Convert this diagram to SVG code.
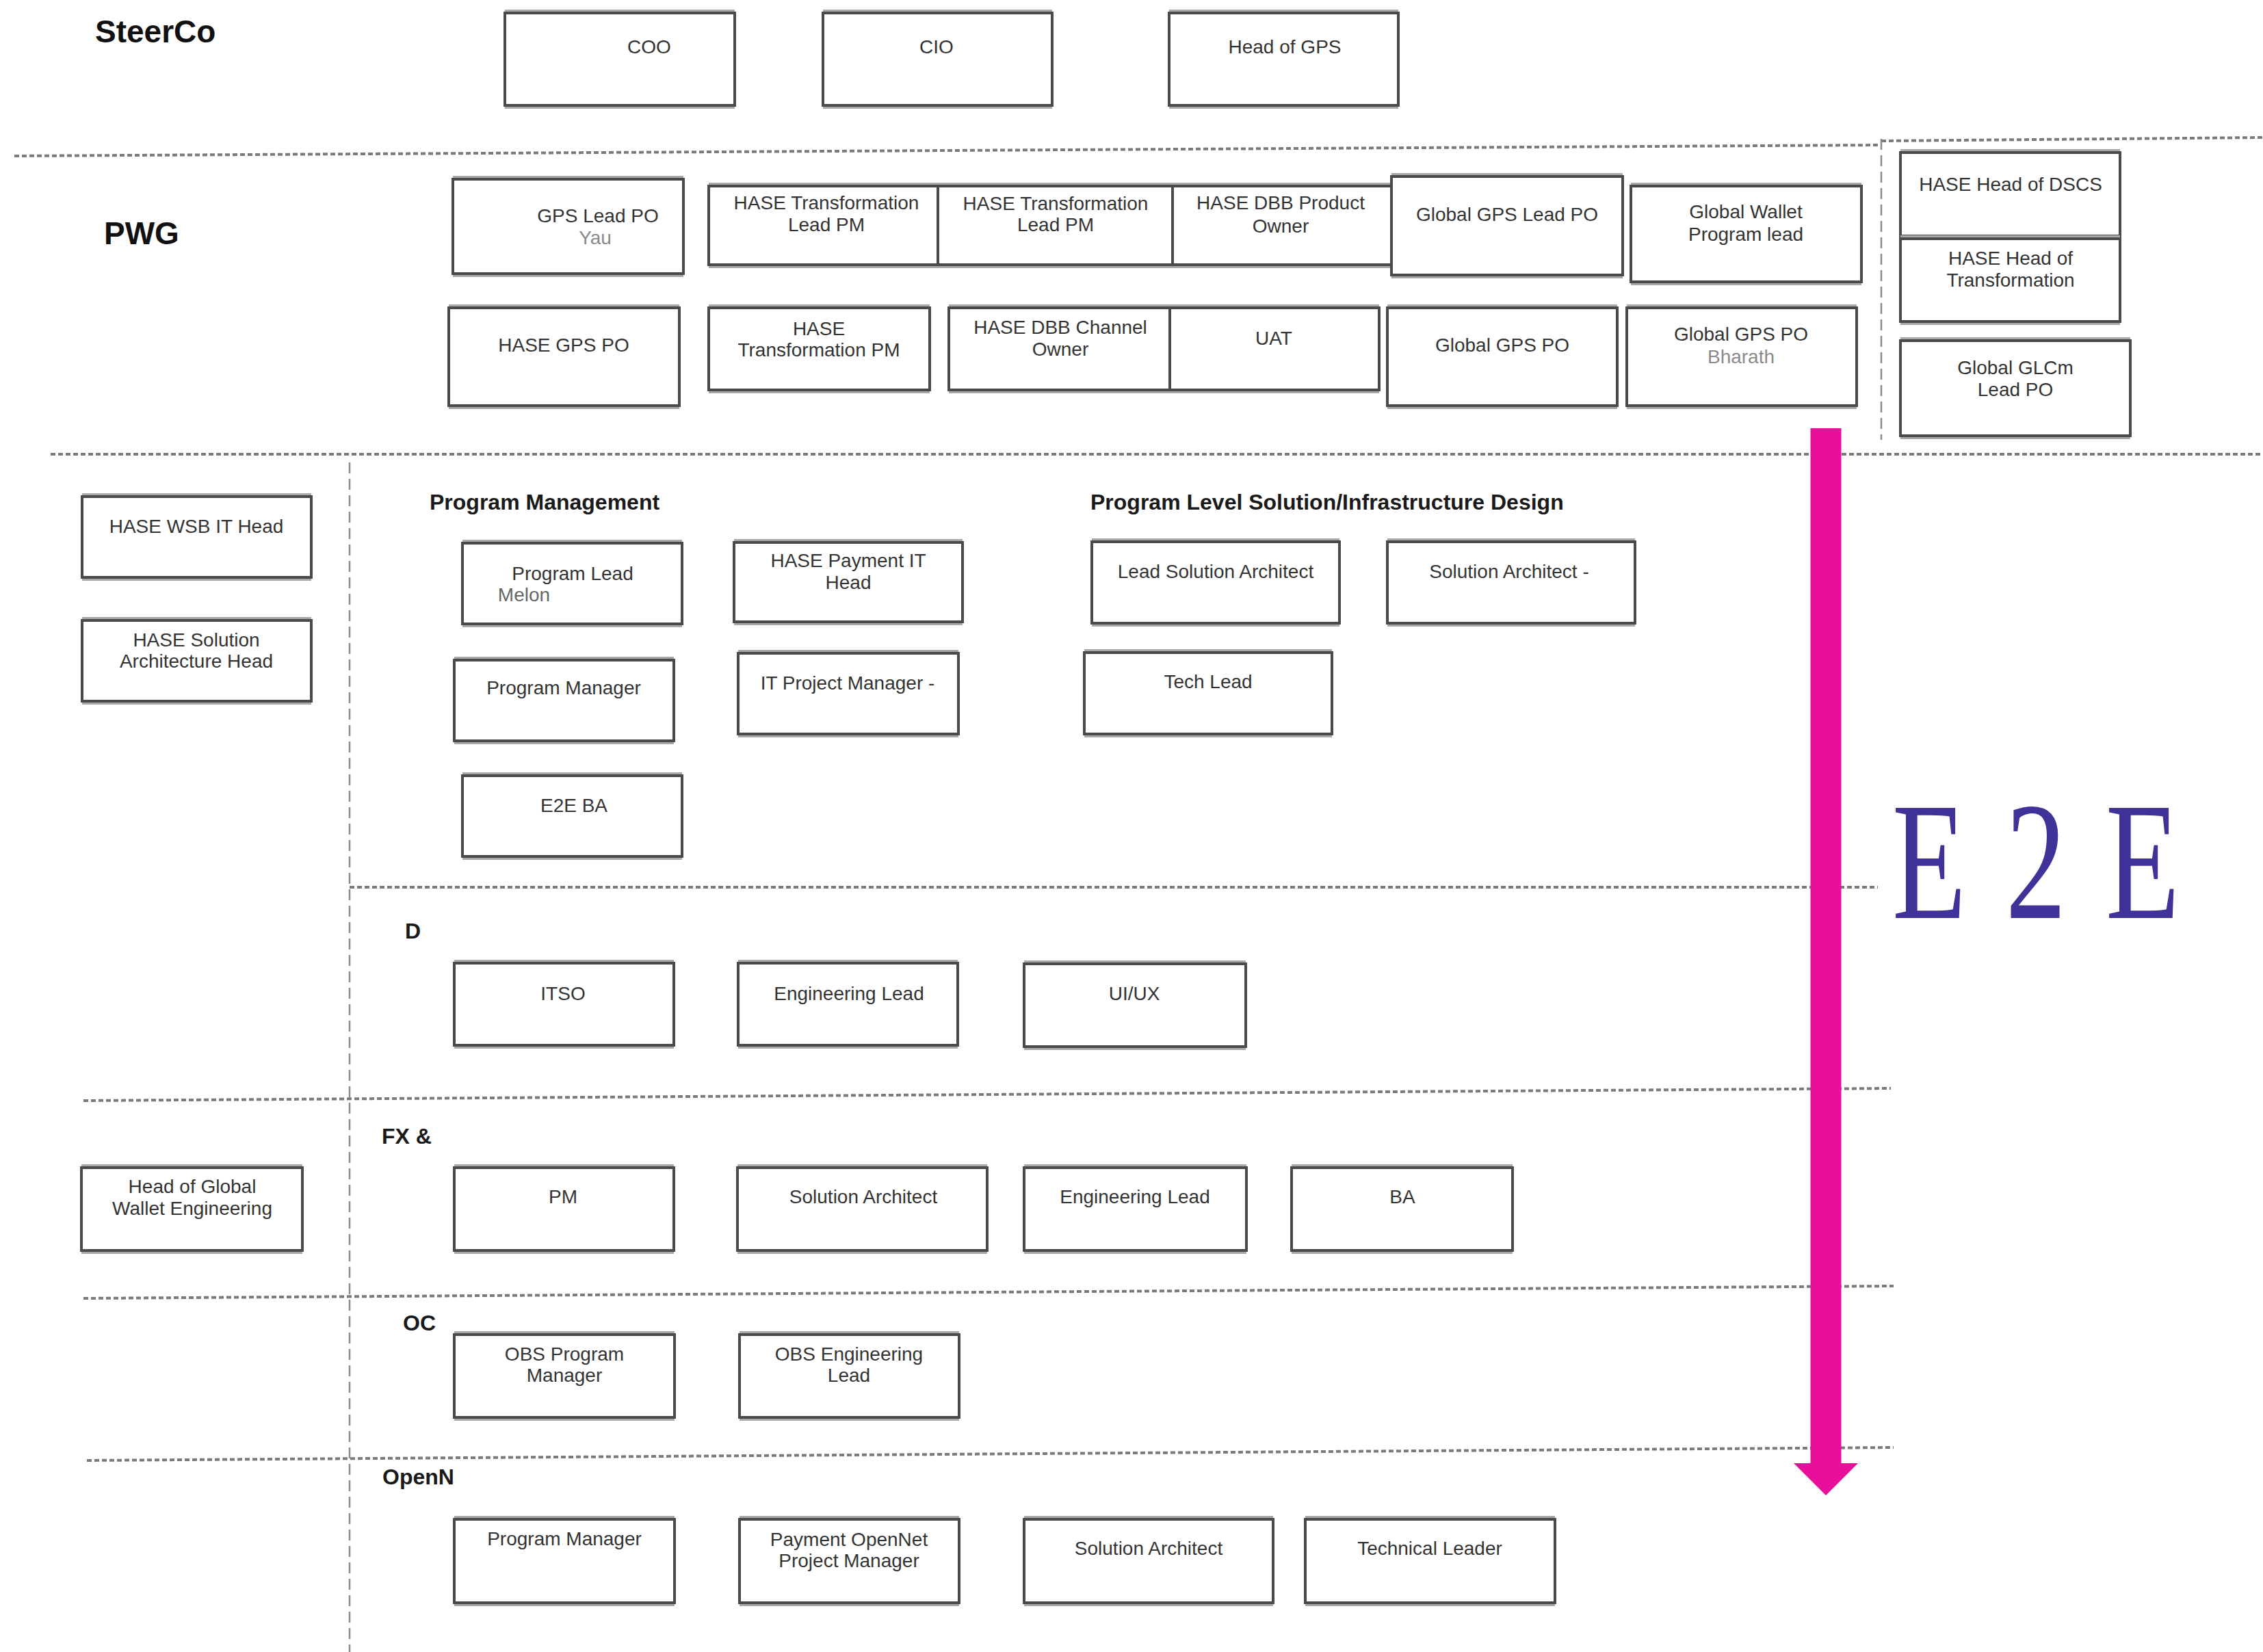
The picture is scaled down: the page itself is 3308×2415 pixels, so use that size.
<svg xmlns="http://www.w3.org/2000/svg" width="3308" height="2415" viewBox="0 0 3308 2415">
<style>
.bg{fill:#ffffff}
.box{fill:#ffffff;stroke:#4a4a4a;stroke-width:4}
.edge{fill:none;stroke:#a8a8a8;stroke-width:10}
.t{font-family:"Liberation Sans",Arial,sans-serif;font-size:28px;fill:#333333;text-anchor:middle}
.n{font-family:"Liberation Sans",Arial,sans-serif;font-size:28px;fill:#8a8a8a;text-anchor:middle}
.big{font-family:"Liberation Sans",Arial,sans-serif;font-size:46px;font-weight:bold;fill:#111111}
.sec{font-family:"Liberation Sans",Arial,sans-serif;font-size:32px;font-weight:bold;fill:#1a1a1a}
.hd{fill:none;stroke:#7a7a7a;stroke-width:4;stroke-dasharray:7 4}
.vd{fill:none;stroke:#8a8a8a;stroke-width:2.5;stroke-dasharray:16 8}
.e2e{font-family:"Liberation Serif","Times New Roman",serif;font-size:246px;fill:#3f3298;letter-spacing:80px}
</style>
<rect class="bg" x="0" y="0" width="3308" height="2415"/>

<g id="dividers">
<path class="hd" d="M21 228 L2750 212"/>
<path class="hd" d="M2750 206 L3308 201"/>
<path class="vd" d="M2750 203 L2750 643"/>
<path class="hd" d="M74 664 L3308 664"/>
<path class="vd" d="M511 676 L511 2415"/>
<path class="hd" d="M511 1297 L2745 1297"/>
<path class="hd" d="M122 1609 L2764 1591"/>
<path class="hd" d="M122 1898 L2768 1880"/>
<path class="hd" d="M127 2135 L2768 2116"/>
</g>

<g id="labels">
<text class="big" x="139" y="62">SteerCo</text>
<text class="big" x="152" y="357">PWG</text>
<text class="sec" x="628" y="745">Program Management</text>
<text class="sec" x="1594" y="745">Program Level Solution/Infrastructure Design</text>
<text class="sec" x="592" y="1372">D</text>
<text class="sec" x="558" y="1672">FX &amp;</text>
<text class="sec" x="589" y="1945">OC</text>
<text class="sec" x="559" y="2170">OpenN</text>
<text class="e2e" transform="translate(2766,1342) scale(0.72,1)">E2E</text>
</g>

<g id="node-coo"><path class="edge" d="M738 19H1074M738 154H1074"/><rect class="box" x="738" y="19" width="336" height="135"/><text class="t" x="949" y="78">COO</text></g>
<g id="node-cio"><path class="edge" d="M1203 19H1538M1203 154H1538"/><rect class="box" x="1203" y="19" width="335" height="135"/><text class="t" x="1369" y="78">CIO</text></g>
<g id="node-head-gps"><path class="edge" d="M1709 19H2044M1709 154H2044"/><rect class="box" x="1709" y="19" width="335" height="135"/><text class="t" x="1878" y="78">Head of GPS</text></g>

<g id="node-gps-lead-po"><path class="edge" d="M662 262H999M662 400H999"/><rect class="box" x="662" y="262" width="337" height="138"/><text class="t" x="874" y="325">GPS Lead PO</text><text class="n" x="870" y="357">Yau</text></g>
<g id="node-hase-tlpm-1"><path class="edge" d="M1036 272H1371M1036 387H1371"/><rect class="box" x="1036" y="272" width="335" height="115"/><text class="t" x="1208" y="306">HASE Transformation</text><text class="t" x="1208" y="338">Lead PM</text></g>
<g id="node-hase-tlpm-2"><path class="edge" d="M1371 272H1714M1371 387H1714"/><rect class="box" x="1371" y="272" width="343" height="115"/><text class="t" x="1543" y="307">HASE Transformation</text><text class="t" x="1543" y="338">Lead PM</text></g>
<g id="node-dbb-po"><path class="edge" d="M1714 272H2034M1714 387H2034"/><rect class="box" x="1714" y="272" width="320" height="115"/><text class="t" x="1872" y="306">HASE DBB Product</text><text class="t" x="1872" y="340">Owner</text></g>
<g id="node-global-gps-lead-po"><path class="edge" d="M2034 258H2372M2034 402H2372"/><rect class="box" x="2034" y="258" width="338" height="144"/><text class="t" x="2203" y="323">Global GPS Lead PO</text></g>
<g id="node-global-wallet"><path class="edge" d="M2384 272H2721M2384 412H2721"/><rect class="box" x="2384" y="272" width="337" height="140"/><text class="t" x="2552" y="319">Global Wallet</text><text class="t" x="2552" y="352">Program lead</text></g>

<g id="node-hase-gps-po"><path class="edge" d="M656 450H993M656 593H993"/><rect class="box" x="656" y="450" width="337" height="143"/><text class="t" x="824" y="514">HASE GPS PO</text></g>
<g id="node-hase-tpm"><path class="edge" d="M1036 450H1359M1036 570H1359"/><rect class="box" x="1036" y="450" width="323" height="120"/><text class="t" x="1197" y="490">HASE</text><text class="t" x="1197" y="521">Transformation PM</text></g>
<g id="node-dbb-channel"><path class="edge" d="M1387 450H1710M1387 570H1710"/><rect class="box" x="1387" y="450" width="323" height="120"/><text class="t" x="1550" y="488">HASE DBB Channel</text><text class="t" x="1550" y="520">Owner</text></g>
<g id="node-uat"><path class="edge" d="M1710 450H2016M1710 570H2016"/><rect class="box" x="1710" y="450" width="306" height="120"/><text class="t" x="1862" y="504">UAT</text></g>
<g id="node-global-gps-po"><path class="edge" d="M2028 450H2364M2028 593H2364"/><rect class="box" x="2028" y="450" width="336" height="143"/><text class="t" x="2196" y="514">Global GPS PO</text></g>
<g id="node-global-gps-po-2"><path class="edge" d="M2378 450H2714M2378 593H2714"/><rect class="box" x="2378" y="450" width="336" height="143"/><text class="t" x="2545" y="498">Global GPS PO</text><text class="n" x="2545" y="531">Bharath</text></g>

<g id="node-dscs"><path class="edge" d="M2778 223H3099M2778 345H3099"/><rect class="box" x="2778" y="223" width="321" height="122"/><text class="t" x="2939" y="279">HASE Head of DSCS</text></g>
<g id="node-head-trans"><path class="edge" d="M2778 349H3099M2778 470H3099"/><rect class="box" x="2778" y="349" width="321" height="121"/><text class="t" x="2939" y="387">HASE Head of</text><text class="t" x="2939" y="419">Transformation</text></g>
<g id="node-glcm"><path class="edge" d="M2778 498H3114M2778 637H3114"/><rect class="box" x="2778" y="498" width="336" height="139"/><text class="t" x="2946" y="547">Global GLCm</text><text class="t" x="2946" y="579">Lead PO</text></g>

<g id="node-wsb-it"><path class="edge" d="M120 726H455M120 844H455"/><rect class="box" x="120" y="726" width="335" height="118"/><text class="t" x="287" y="779">HASE WSB IT Head</text></g>
<g id="node-sol-arch-head"><path class="edge" d="M120 907H455M120 1025H455"/><rect class="box" x="120" y="907" width="335" height="118"/><text class="t" x="287" y="945">HASE Solution</text><text class="t" x="287" y="976">Architecture Head</text></g>

<g id="node-program-lead"><path class="edge" d="M676 794H997M676 912H997"/><rect class="box" x="676" y="794" width="321" height="118"/><text class="t" x="837" y="848">Program Lead</text><text class="t" x="766" y="879" style="fill:#666">Melon</text></g>
<g id="node-payment-it"><path class="edge" d="M1073 793H1407M1073 909H1407"/><rect class="box" x="1073" y="793" width="334" height="116"/><text class="t" x="1240" y="829">HASE Payment IT</text><text class="t" x="1240" y="861">Head</text></g>
<g id="node-program-manager"><path class="edge" d="M664 965H985M664 1083H985"/><rect class="box" x="664" y="965" width="321" height="118"/><text class="t" x="824" y="1015">Program Manager</text></g>
<g id="node-it-pm"><path class="edge" d="M1079 955H1401M1079 1073H1401"/><rect class="box" x="1079" y="955" width="322" height="118"/><text class="t" x="1239" y="1008">IT Project Manager -</text></g>
<g id="node-e2e-ba"><path class="edge" d="M676 1134H997M676 1252H997"/><rect class="box" x="676" y="1134" width="321" height="118"/><text class="t" x="839" y="1187">E2E BA</text></g>

<g id="node-lead-sa"><path class="edge" d="M1596 792H1958M1596 911H1958"/><rect class="box" x="1596" y="792" width="362" height="119"/><text class="t" x="1777" y="845">Lead Solution Architect</text></g>
<g id="node-sa"><path class="edge" d="M2028 792H2390M2028 911H2390"/><rect class="box" x="2028" y="792" width="362" height="119"/><text class="t" x="2206" y="845">Solution Architect -</text></g>
<g id="node-tech-lead"><path class="edge" d="M1585 954H1947M1585 1073H1947"/><rect class="box" x="1585" y="954" width="362" height="119"/><text class="t" x="1766" y="1006">Tech Lead</text></g>

<g id="node-itso"><path class="edge" d="M664 1408H985M664 1528H985"/><rect class="box" x="664" y="1408" width="321" height="120"/><text class="t" x="823" y="1462">ITSO</text></g>
<g id="node-eng-lead"><path class="edge" d="M1079 1408H1400M1079 1528H1400"/><rect class="box" x="1079" y="1408" width="321" height="120"/><text class="t" x="1241" y="1462">Engineering Lead</text></g>
<g id="node-uiux"><path class="edge" d="M1497 1409H1821M1497 1530H1821"/><rect class="box" x="1497" y="1409" width="324" height="121"/><text class="t" x="1658" y="1462">UI/UX</text></g>

<g id="node-head-global-wallet"><path class="edge" d="M119 1707H442M119 1828H442"/><rect class="box" x="119" y="1707" width="323" height="121"/><text class="t" x="281" y="1744">Head of Global</text><text class="t" x="281" y="1776">Wallet Engineering</text></g>
<g id="node-fx-pm"><path class="edge" d="M664 1707H985M664 1828H985"/><rect class="box" x="664" y="1707" width="321" height="121"/><text class="t" x="823" y="1759">PM</text></g>
<g id="node-fx-sa"><path class="edge" d="M1078 1707H1443M1078 1828H1443"/><rect class="box" x="1078" y="1707" width="365" height="121"/><text class="t" x="1262" y="1759">Solution Architect</text></g>
<g id="node-fx-eng"><path class="edge" d="M1497 1707H1822M1497 1828H1822"/><rect class="box" x="1497" y="1707" width="325" height="121"/><text class="t" x="1659" y="1759">Engineering Lead</text></g>
<g id="node-fx-ba"><path class="edge" d="M1888 1707H2211M1888 1828H2211"/><rect class="box" x="1888" y="1707" width="323" height="121"/><text class="t" x="2050" y="1759">BA</text></g>

<g id="node-obs-pm"><path class="edge" d="M664 1951H986M664 2072H986"/><rect class="box" x="664" y="1951" width="322" height="121"/><text class="t" x="825" y="1989">OBS Program</text><text class="t" x="825" y="2020">Manager</text></g>
<g id="node-obs-eng"><path class="edge" d="M1081 1951H1402M1081 2072H1402"/><rect class="box" x="1081" y="1951" width="321" height="121"/><text class="t" x="1241" y="1989">OBS Engineering</text><text class="t" x="1241" y="2020">Lead</text></g>

<g id="node-on-pm"><path class="edge" d="M664 2221H986M664 2343H986"/><rect class="box" x="664" y="2221" width="322" height="122"/><text class="t" x="825" y="2259">Program Manager</text></g>
<g id="node-on-ppm"><path class="edge" d="M1081 2221H1402M1081 2343H1402"/><rect class="box" x="1081" y="2221" width="321" height="122"/><text class="t" x="1241" y="2260">Payment OpenNet</text><text class="t" x="1241" y="2291">Project Manager</text></g>
<g id="node-on-sa"><path class="edge" d="M1497 2221H1861M1497 2343H1861"/><rect class="box" x="1497" y="2221" width="364" height="122"/><text class="t" x="1679" y="2273">Solution Architect</text></g>
<g id="node-on-tl"><path class="edge" d="M1908 2221H2273M1908 2343H2273"/><rect class="box" x="1908" y="2221" width="365" height="122"/><text class="t" x="2090" y="2273">Technical Leader</text></g>

<g id="connectors">
<path d="M2669 626 L2669 2142" fill="none" stroke="#e8109b" stroke-width="45"/>
<polygon points="2622,2139 2716,2139 2669,2186" fill="#e8109b"/>
</g>
</svg>
